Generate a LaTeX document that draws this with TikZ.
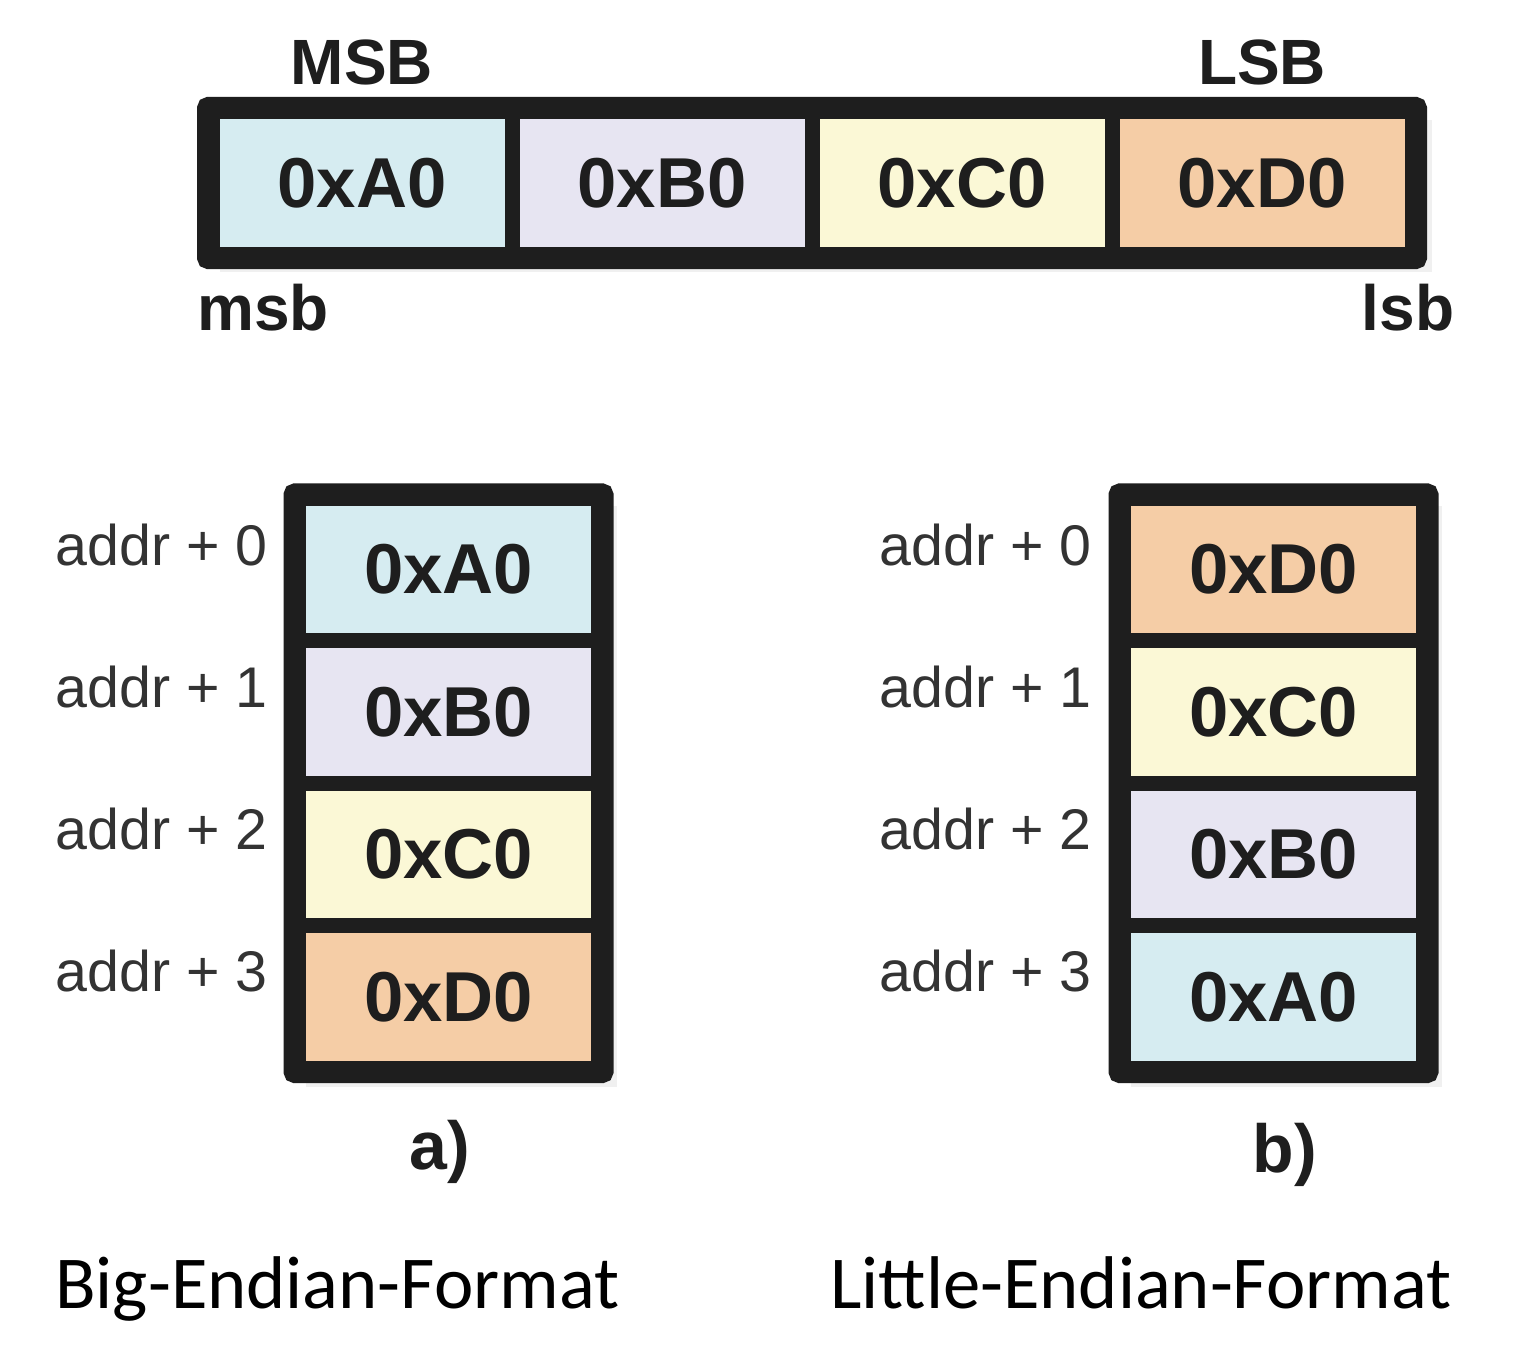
\documentclass[tikz,border=0pt]{standalone}
\usepackage{fontspec}
\setmainfont{Liberation Sans}
\newfontfamily\capfont{Carlito}
\definecolor{cA}{HTML}{D6ECF1}
\definecolor{cB}{HTML}{E7E5F2}
\definecolor{cC}{HTML}{FBF8D6}
\definecolor{cD}{HTML}{F5CDA6}
\definecolor{edge}{HTML}{1E1E1E}
\definecolor{txt}{HTML}{1E1E1E}
\definecolor{lbl}{HTML}{333333}
\tikzset{
  cell/.style={draw=edge, line width=11.25pt, minimum width=225pt, minimum height=106.7pt,
    inner sep=0pt, text=txt, font=\fontsize{53}{53}\selectfont\bfseries},
  addr/.style={anchor=east, inner sep=0pt, text=lbl, font=\fontsize{43}{43}\selectfont},
  bitlbl/.style={inner sep=0pt, text=txt, font=\fontsize{48}{48}\selectfont\bfseries},
  sub/.style={inner sep=0pt, text=txt, font=\fontsize{51}{51}\selectfont\bfseries},
  caption/.style={anchor=base west, inner sep=0pt, text=black, font=\capfont\fontsize{56}{56}\selectfont},
  shade/.style={fill=black!6}
}
\begin{document}
\begin{tikzpicture}[x=0.75pt,y=-0.75pt]
\useasboundingbox[fill=white] (0,0) rectangle (1525,1347);
% shadows
\fill[shade] (220,120) rectangle (1432,272);
\fill[shade] (306,506) rectangle (617,1087);
\fill[shade] (1131,506) rectangle (1442,1087);
% top bar
\node[cell, fill=cA] (tA) at (362,183) {0xA0};
\node[cell, fill=cB] (tB) at (662,183) {0xB0};
\node[cell, fill=cC] (tC) at (962,183) {0xC0};
\node[cell, fill=cD] (tD) at (1262,183) {0xD0};
\draw[edge, line width=11.25pt, rounded corners=3pt] (tA.north west) rectangle (tD.south east);
\node[bitlbl] (MSB) at (362,62) {MSB};
\node[bitlbl] (LSB) at (1262,62) {LSB};
\node[bitlbl] (msb) at (263,308) {msb};
\node[bitlbl] (lsb) at (1408,308) {lsb};
% big endian column
\node[cell, fill=cA] (a0) at (448.5,569.5) {0xA0};
\node[cell, fill=cB] (a1) at (448.5,712) {0xB0};
\node[cell, fill=cC] (a2) at (448.5,854.5) {0xC0};
\node[cell, fill=cD] (a3) at (448.5,997) {0xD0};
\draw[edge, line width=11.25pt, rounded corners=3pt] (a0.north west) rectangle (a3.south east);
\node[addr] (la0) at (268,545) {addr + 0};
\node[addr] (la1) at (268,687) {addr + 1};
\node[addr] (la2) at (268,829) {addr + 2};
\node[addr] (la3) at (268,971) {addr + 3};
\node[sub] (suba) at (440,1152) {a)};
% little endian column
\node[cell, fill=cD] (b0) at (1273.5,569.5) {0xD0};
\node[cell, fill=cC] (b1) at (1273.5,712) {0xC0};
\node[cell, fill=cB] (b2) at (1273.5,854.5) {0xB0};
\node[cell, fill=cA] (b3) at (1273.5,997) {0xA0};
\draw[edge, line width=11.25pt, rounded corners=3pt] (b0.north west) rectangle (b3.south east);
\node[addr] (lb0) at (1092,545) {addr + 0};
\node[addr] (lb1) at (1092,687) {addr + 1};
\node[addr] (lb2) at (1092,829) {addr + 2};
\node[addr] (lb3) at (1092,971) {addr + 3};
\node[sub] (subb) at (1285,1155) {b)};
% captions
\node[caption] (capa) at (55,1308) {Big-Endian-Format};
\node[caption] (capb) at (830,1308) {Little-Endian-Format};
\end{tikzpicture}
\end{document}
